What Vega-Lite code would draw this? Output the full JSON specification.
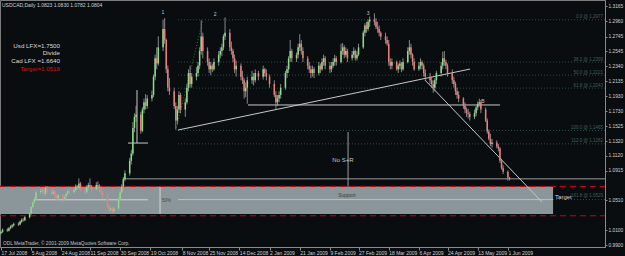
{
"$schema": "https://vega.github.io/schema/vega-lite/v6.json",
"width": 605, "height": 247,
"autosize": {"type": "none"},
"padding": {"left": 0, "top": 0, "right": 20, "bottom": 9},
"background": "#0a0d10",
"config": {
 "view": {"stroke": "#7c7c7c", "strokeWidth": 1},
 "font": "Liberation Sans",
 "axis": {"grid": false, "domainColor": "#8a8a8a", "tickColor": "#8a8a8a", "labelColor": "#d0d0d0", "labelFont": "Liberation Sans"}
},
"datasets": {
 "candles": [
{"d":"2008-07-17","o":1.0060,"h":1.0095,"l":1.0045,"c":1.0080},
{"d":"2008-07-18","o":1.0080,"h":1.0125,"l":1.0065,"c":1.0110},
{"d":"2008-07-21","o":1.0110,"h":1.0130,"l":1.0080,"c":1.0095},
{"d":"2008-07-22","o":1.0095,"h":1.0145,"l":1.0085,"c":1.0130},
{"d":"2008-07-23","o":1.0130,"h":1.0170,"l":1.0115,"c":1.0150},
{"d":"2008-07-24","o":1.0150,"h":1.0185,"l":1.0130,"c":1.0170},
{"d":"2008-07-25","o":1.0170,"h":1.0205,"l":1.0150,"c":1.0190},
{"d":"2008-07-28","o":1.0190,"h":1.0210,"l":1.0160,"c":1.0180},
{"d":"2008-07-29","o":1.0180,"h":1.0235,"l":1.0170,"c":1.0220},
{"d":"2008-07-30","o":1.0220,"h":1.0265,"l":1.0200,"c":1.0245},
{"d":"2008-07-31","o":1.0245,"h":1.0270,"l":1.0220,"c":1.0240},
{"d":"2008-08-01","o":1.0240,"h":1.0295,"l":1.0225,"c":1.0280},
{"d":"2008-08-04","o":1.0280,"h":1.0350,"l":1.0265,"c":1.0330},
{"d":"2008-08-05","o":1.0330,"h":1.0440,"l":1.0315,"c":1.0420},
{"d":"2008-08-06","o":1.0420,"h":1.0500,"l":1.0400,"c":1.0480},
{"d":"2008-08-07","o":1.0480,"h":1.0560,"l":1.0460,"c":1.0530},
{"d":"2008-08-08","o":1.0530,"h":1.0650,"l":1.0510,"c":1.0620},
{"d":"2008-08-11","o":1.0620,"h":1.0680,"l":1.0590,"c":1.0640},
{"d":"2008-08-12","o":1.0640,"h":1.0690,"l":1.0600,"c":1.0650},
{"d":"2008-08-13","o":1.0650,"h":1.0670,"l":1.0570,"c":1.0600},
{"d":"2008-08-14","o":1.0600,"h":1.0700,"l":1.0580,"c":1.0680},
{"d":"2008-08-15","o":1.0680,"h":1.0705,"l":1.0610,"c":1.0640},
{"d":"2008-08-18","o":1.0640,"h":1.0665,"l":1.0580,"c":1.0600},
{"d":"2008-08-19","o":1.0600,"h":1.0660,"l":1.0585,"c":1.0630},
{"d":"2008-08-20","o":1.0630,"h":1.0645,"l":1.0540,"c":1.0560},
{"d":"2008-08-21","o":1.0560,"h":1.0590,"l":1.0510,"c":1.0540},
{"d":"2008-08-22","o":1.0540,"h":1.0600,"l":1.0520,"c":1.0580},
{"d":"2008-08-25","o":1.0580,"h":1.0600,"l":1.0480,"c":1.0530},
{"d":"2008-08-26","o":1.0530,"h":1.0580,"l":1.0500,"c":1.0560},
{"d":"2008-08-27","o":1.0560,"h":1.0620,"l":1.0530,"c":1.0600},
{"d":"2008-08-28","o":1.0600,"h":1.0660,"l":1.0580,"c":1.0640},
{"d":"2008-08-29","o":1.0640,"h":1.0670,"l":1.0600,"c":1.0620},
{"d":"2008-09-01","o":1.0620,"h":1.0680,"l":1.0600,"c":1.0650},
{"d":"2008-09-02","o":1.0650,"h":1.0730,"l":1.0630,"c":1.0700},
{"d":"2008-09-03","o":1.0700,"h":1.0720,"l":1.0650,"c":1.0680},
{"d":"2008-09-04","o":1.0680,"h":1.0810,"l":1.0660,"c":1.0740},
{"d":"2008-09-05","o":1.0740,"h":1.0760,"l":1.0640,"c":1.0660},
{"d":"2008-09-08","o":1.0660,"h":1.0690,"l":1.0590,"c":1.0620},
{"d":"2008-09-09","o":1.0620,"h":1.0720,"l":1.0600,"c":1.0690},
{"d":"2008-09-10","o":1.0690,"h":1.0750,"l":1.0660,"c":1.0720},
{"d":"2008-09-11","o":1.0720,"h":1.0810,"l":1.0680,"c":1.0700},
{"d":"2008-09-12","o":1.0700,"h":1.0720,"l":1.0630,"c":1.0660},
{"d":"2008-09-15","o":1.0660,"h":1.0760,"l":1.0640,"c":1.0720},
{"d":"2008-09-16","o":1.0720,"h":1.0770,"l":1.0670,"c":1.0700},
{"d":"2008-09-17","o":1.0700,"h":1.0730,"l":1.0620,"c":1.0650},
{"d":"2008-09-18","o":1.0650,"h":1.0700,"l":1.0580,"c":1.0620},
{"d":"2008-09-19","o":1.0620,"h":1.0640,"l":1.0530,"c":1.0580},
{"d":"2008-09-22","o":1.0580,"h":1.0600,"l":1.0400,"c":1.0420},
{"d":"2008-09-23","o":1.0420,"h":1.0450,"l":1.0350,"c":1.0380},
{"d":"2008-09-24","o":1.0380,"h":1.0430,"l":1.0350,"c":1.0400},
{"d":"2008-09-25","o":1.0400,"h":1.0420,"l":1.0330,"c":1.0360},
{"d":"2008-09-26","o":1.0360,"h":1.0430,"l":1.0340,"c":1.0400},
{"d":"2008-09-29","o":1.0400,"h":1.0560,"l":1.0380,"c":1.0520},
{"d":"2008-09-30","o":1.0520,"h":1.0660,"l":1.0500,"c":1.0620},
{"d":"2008-10-01","o":1.0620,"h":1.0730,"l":1.0600,"c":1.0700},
{"d":"2008-10-02","o":1.0700,"h":1.0830,"l":1.0680,"c":1.0800},
{"d":"2008-10-03","o":1.0800,"h":1.0920,"l":1.0770,"c":1.0880},
{"d":"2008-10-06","o":1.0880,"h":1.1090,"l":1.0850,"c":1.1050},
{"d":"2008-10-07","o":1.1050,"h":1.1200,"l":1.1000,"c":1.1150},
{"d":"2008-10-08","o":1.1150,"h":1.1580,"l":1.1120,"c":1.1500},
{"d":"2008-10-09","o":1.1500,"h":1.1700,"l":1.1440,"c":1.1650},
{"d":"2008-10-10","o":1.1650,"h":1.1800,"l":1.1580,"c":1.1680},
{"d":"2008-10-13","o":1.1680,"h":1.1720,"l":1.1420,"c":1.1460},
{"d":"2008-10-14","o":1.1460,"h":1.1780,"l":1.1440,"c":1.1750},
{"d":"2008-10-15","o":1.1750,"h":1.1900,"l":1.1700,"c":1.1850},
{"d":"2008-10-16","o":1.1850,"h":1.1960,"l":1.1750,"c":1.1800},
{"d":"2008-10-17","o":1.1800,"h":1.1950,"l":1.1760,"c":1.1900},
{"d":"2008-10-20","o":1.1900,"h":1.2010,"l":1.1860,"c":1.1950},
{"d":"2008-10-21","o":1.1950,"h":1.2230,"l":1.1920,"c":1.2200},
{"d":"2008-10-22","o":1.2200,"h":1.2500,"l":1.2150,"c":1.2450},
{"d":"2008-10-23","o":1.2450,"h":1.2600,"l":1.2300,"c":1.2380},
{"d":"2008-10-24","o":1.2380,"h":1.2750,"l":1.2350,"c":1.2600},
{"d":"2008-10-27","o":1.2600,"h":1.2980,"l":1.2550,"c":1.2850},
{"d":"2008-10-28","o":1.2850,"h":1.3000,"l":1.2650,"c":1.2700},
{"d":"2008-10-29","o":1.2700,"h":1.2720,"l":1.2250,"c":1.2300},
{"d":"2008-10-30","o":1.2300,"h":1.2350,"l":1.2000,"c":1.2050},
{"d":"2008-10-31","o":1.2050,"h":1.2180,"l":1.1950,"c":1.2000},
{"d":"2008-11-03","o":1.2000,"h":1.2050,"l":1.1760,"c":1.1800},
{"d":"2008-11-04","o":1.1800,"h":1.1850,"l":1.1480,"c":1.1600},
{"d":"2008-11-05","o":1.1600,"h":1.1800,"l":1.1550,"c":1.1750},
{"d":"2008-11-06","o":1.1750,"h":1.2000,"l":1.1700,"c":1.1950},
{"d":"2008-11-07","o":1.1950,"h":1.1980,"l":1.1700,"c":1.1750},
{"d":"2008-11-10","o":1.1750,"h":1.1900,"l":1.1650,"c":1.1850},
{"d":"2008-11-11","o":1.1850,"h":1.2100,"l":1.1820,"c":1.2050},
{"d":"2008-11-12","o":1.2050,"h":1.2300,"l":1.2000,"c":1.2250},
{"d":"2008-11-13","o":1.2250,"h":1.2350,"l":1.2050,"c":1.2100},
{"d":"2008-11-14","o":1.2100,"h":1.2250,"l":1.2050,"c":1.2200},
{"d":"2008-11-17","o":1.2200,"h":1.2330,"l":1.2150,"c":1.2250},
{"d":"2008-11-18","o":1.2250,"h":1.2400,"l":1.2200,"c":1.2350},
{"d":"2008-11-19","o":1.2350,"h":1.2600,"l":1.2300,"c":1.2550},
{"d":"2008-11-20","o":1.2550,"h":1.2970,"l":1.2500,"c":1.2750},
{"d":"2008-11-21","o":1.2750,"h":1.2800,"l":1.2450,"c":1.2550},
{"d":"2008-11-24","o":1.2550,"h":1.2600,"l":1.2350,"c":1.2400},
{"d":"2008-11-25","o":1.2400,"h":1.2450,"l":1.2250,"c":1.2300},
{"d":"2008-11-26","o":1.2300,"h":1.2400,"l":1.2220,"c":1.2350},
{"d":"2008-11-27","o":1.2350,"h":1.2380,"l":1.2260,"c":1.2300},
{"d":"2008-11-28","o":1.2300,"h":1.2450,"l":1.2280,"c":1.2400},
{"d":"2008-12-01","o":1.2400,"h":1.2550,"l":1.2350,"c":1.2500},
{"d":"2008-12-02","o":1.2500,"h":1.2600,"l":1.2450,"c":1.2550},
{"d":"2008-12-03","o":1.2550,"h":1.2650,"l":1.2480,"c":1.2600},
{"d":"2008-12-04","o":1.2600,"h":1.2780,"l":1.2560,"c":1.2750},
{"d":"2008-12-05","o":1.2750,"h":1.3010,"l":1.2700,"c":1.2800},
{"d":"2008-12-08","o":1.2800,"h":1.2850,"l":1.2550,"c":1.2600},
{"d":"2008-12-09","o":1.2600,"h":1.2680,"l":1.2500,"c":1.2550},
{"d":"2008-12-10","o":1.2550,"h":1.2580,"l":1.2400,"c":1.2450},
{"d":"2008-12-11","o":1.2450,"h":1.2500,"l":1.2250,"c":1.2300},
{"d":"2008-12-12","o":1.2300,"h":1.2420,"l":1.2200,"c":1.2350},
{"d":"2008-12-15","o":1.2350,"h":1.2380,"l":1.2150,"c":1.2200},
{"d":"2008-12-16","o":1.2200,"h":1.2280,"l":1.2100,"c":1.2150},
{"d":"2008-12-17","o":1.2150,"h":1.2180,"l":1.1900,"c":1.2000},
{"d":"2008-12-18","o":1.2000,"h":1.2120,"l":1.1920,"c":1.2050},
{"d":"2008-12-19","o":1.2050,"h":1.2200,"l":1.1830,"c":1.2150},
{"d":"2008-12-22","o":1.2150,"h":1.2280,"l":1.2100,"c":1.2200},
{"d":"2008-12-23","o":1.2200,"h":1.2250,"l":1.2080,"c":1.2150},
{"d":"2008-12-24","o":1.2150,"h":1.2300,"l":1.2120,"c":1.2250},
{"d":"2008-12-26","o":1.2250,"h":1.2280,"l":1.2150,"c":1.2200},
{"d":"2008-12-29","o":1.2200,"h":1.2350,"l":1.2160,"c":1.2300},
{"d":"2008-12-30","o":1.2300,"h":1.2320,"l":1.2200,"c":1.2250},
{"d":"2008-12-31","o":1.2250,"h":1.2300,"l":1.2150,"c":1.2200},
{"d":"2009-01-02","o":1.2200,"h":1.2230,"l":1.2050,"c":1.2100},
{"d":"2009-01-05","o":1.2100,"h":1.2150,"l":1.1920,"c":1.1950},
{"d":"2009-01-06","o":1.1950,"h":1.2000,"l":1.1760,"c":1.1850},
{"d":"2009-01-07","o":1.1850,"h":1.1950,"l":1.1800,"c":1.1900},
{"d":"2009-01-08","o":1.1900,"h":1.2000,"l":1.1850,"c":1.1950},
{"d":"2009-01-09","o":1.1950,"h":1.2100,"l":1.1900,"c":1.2050},
{"d":"2009-01-12","o":1.2050,"h":1.2280,"l":1.2020,"c":1.2250},
{"d":"2009-01-13","o":1.2250,"h":1.2350,"l":1.2180,"c":1.2300},
{"d":"2009-01-14","o":1.2300,"h":1.2480,"l":1.2250,"c":1.2450},
{"d":"2009-01-15","o":1.2450,"h":1.2700,"l":1.2400,"c":1.2550},
{"d":"2009-01-16","o":1.2550,"h":1.2580,"l":1.2400,"c":1.2450},
{"d":"2009-01-19","o":1.2450,"h":1.2530,"l":1.2400,"c":1.2500},
{"d":"2009-01-20","o":1.2500,"h":1.2650,"l":1.2450,"c":1.2600},
{"d":"2009-01-21","o":1.2600,"h":1.2780,"l":1.2550,"c":1.2650},
{"d":"2009-01-22","o":1.2650,"h":1.2700,"l":1.2500,"c":1.2550},
{"d":"2009-01-23","o":1.2550,"h":1.2600,"l":1.2400,"c":1.2450},
{"d":"2009-01-26","o":1.2450,"h":1.2480,"l":1.2300,"c":1.2350},
{"d":"2009-01-27","o":1.2350,"h":1.2400,"l":1.2250,"c":1.2300},
{"d":"2009-01-28","o":1.2300,"h":1.2350,"l":1.2180,"c":1.2250},
{"d":"2009-01-29","o":1.2250,"h":1.2350,"l":1.2200,"c":1.2300},
{"d":"2009-01-30","o":1.2300,"h":1.2330,"l":1.2180,"c":1.2250},
{"d":"2009-02-02","o":1.2250,"h":1.2400,"l":1.2220,"c":1.2350},
{"d":"2009-02-03","o":1.2350,"h":1.2380,"l":1.2250,"c":1.2300},
{"d":"2009-02-04","o":1.2300,"h":1.2450,"l":1.2280,"c":1.2400},
{"d":"2009-02-05","o":1.2400,"h":1.2500,"l":1.2350,"c":1.2450},
{"d":"2009-02-06","o":1.2450,"h":1.2480,"l":1.2300,"c":1.2350},
{"d":"2009-02-09","o":1.2350,"h":1.2400,"l":1.2250,"c":1.2300},
{"d":"2009-02-10","o":1.2300,"h":1.2400,"l":1.2260,"c":1.2350},
{"d":"2009-02-11","o":1.2350,"h":1.2450,"l":1.2320,"c":1.2400},
{"d":"2009-02-12","o":1.2400,"h":1.2500,"l":1.2350,"c":1.2450},
{"d":"2009-02-13","o":1.2450,"h":1.2480,"l":1.2350,"c":1.2400},
{"d":"2009-02-16","o":1.2400,"h":1.2650,"l":1.2380,"c":1.2550},
{"d":"2009-02-17","o":1.2550,"h":1.2660,"l":1.2500,"c":1.2600},
{"d":"2009-02-18","o":1.2600,"h":1.2630,"l":1.2450,"c":1.2500},
{"d":"2009-02-19","o":1.2500,"h":1.2600,"l":1.2470,"c":1.2550},
{"d":"2009-02-20","o":1.2550,"h":1.2580,"l":1.2400,"c":1.2450},
{"d":"2009-02-23","o":1.2450,"h":1.2550,"l":1.2420,"c":1.2500},
{"d":"2009-02-24","o":1.2500,"h":1.2600,"l":1.2460,"c":1.2550},
{"d":"2009-02-25","o":1.2550,"h":1.2570,"l":1.2420,"c":1.2450},
{"d":"2009-02-26","o":1.2450,"h":1.2550,"l":1.2420,"c":1.2500},
{"d":"2009-02-27","o":1.2500,"h":1.2650,"l":1.2480,"c":1.2600},
{"d":"2009-03-02","o":1.2600,"h":1.2830,"l":1.2580,"c":1.2800},
{"d":"2009-03-03","o":1.2800,"h":1.2930,"l":1.2750,"c":1.2900},
{"d":"2009-03-04","o":1.2900,"h":1.2950,"l":1.2800,"c":1.2850},
{"d":"2009-03-05","o":1.2850,"h":1.2980,"l":1.2820,"c":1.2950},
{"d":"2009-03-06","o":1.2950,"h":1.3020,"l":1.2880,"c":1.2980},
{"d":"2009-03-09","o":1.2980,"h":1.3065,"l":1.2900,"c":1.2950},
{"d":"2009-03-10","o":1.2950,"h":1.3000,"l":1.2850,"c":1.2880},
{"d":"2009-03-11","o":1.2880,"h":1.2950,"l":1.2800,"c":1.2850},
{"d":"2009-03-12","o":1.2850,"h":1.2900,"l":1.2750,"c":1.2800},
{"d":"2009-03-13","o":1.2800,"h":1.2820,"l":1.2700,"c":1.2750},
{"d":"2009-03-16","o":1.2750,"h":1.2800,"l":1.2650,"c":1.2700},
{"d":"2009-03-17","o":1.2700,"h":1.2750,"l":1.2620,"c":1.2650},
{"d":"2009-03-18","o":1.2650,"h":1.2700,"l":1.2350,"c":1.2400},
{"d":"2009-03-19","o":1.2400,"h":1.2450,"l":1.2300,"c":1.2350},
{"d":"2009-03-20","o":1.2350,"h":1.2450,"l":1.2300,"c":1.2400},
{"d":"2009-03-23","o":1.2400,"h":1.2420,"l":1.2280,"c":1.2300},
{"d":"2009-03-24","o":1.2300,"h":1.2380,"l":1.2250,"c":1.2350},
{"d":"2009-03-25","o":1.2350,"h":1.2420,"l":1.2300,"c":1.2380},
{"d":"2009-03-26","o":1.2380,"h":1.2400,"l":1.2260,"c":1.2300},
{"d":"2009-03-27","o":1.2300,"h":1.2450,"l":1.2280,"c":1.2400},
{"d":"2009-03-30","o":1.2400,"h":1.2600,"l":1.2380,"c":1.2550},
{"d":"2009-03-31","o":1.2550,"h":1.2700,"l":1.2500,"c":1.2600},
{"d":"2009-04-01","o":1.2600,"h":1.2650,"l":1.2450,"c":1.2500},
{"d":"2009-04-02","o":1.2500,"h":1.2520,"l":1.2350,"c":1.2400},
{"d":"2009-04-03","o":1.2400,"h":1.2450,"l":1.2280,"c":1.2300},
{"d":"2009-04-06","o":1.2300,"h":1.2400,"l":1.2280,"c":1.2350},
{"d":"2009-04-07","o":1.2350,"h":1.2450,"l":1.2300,"c":1.2400},
{"d":"2009-04-08","o":1.2400,"h":1.2420,"l":1.2300,"c":1.2350},
{"d":"2009-04-09","o":1.2350,"h":1.2380,"l":1.2200,"c":1.2250},
{"d":"2009-04-10","o":1.2250,"h":1.2300,"l":1.2150,"c":1.2200},
{"d":"2009-04-13","o":1.2200,"h":1.2250,"l":1.2100,"c":1.2150},
{"d":"2009-04-14","o":1.2150,"h":1.2200,"l":1.2050,"c":1.2100},
{"d":"2009-04-15","o":1.2100,"h":1.2150,"l":1.1980,"c":1.2050},
{"d":"2009-04-16","o":1.2050,"h":1.2180,"l":1.2000,"c":1.2150},
{"d":"2009-04-17","o":1.2150,"h":1.2280,"l":1.2100,"c":1.2250},
{"d":"2009-04-20","o":1.2250,"h":1.2400,"l":1.2200,"c":1.2350},
{"d":"2009-04-21","o":1.2350,"h":1.2540,"l":1.2300,"c":1.2450},
{"d":"2009-04-22","o":1.2450,"h":1.2550,"l":1.2350,"c":1.2400},
{"d":"2009-04-23","o":1.2400,"h":1.2430,"l":1.2300,"c":1.2350},
{"d":"2009-04-24","o":1.2350,"h":1.2380,"l":1.2200,"c":1.2250},
{"d":"2009-04-27","o":1.2250,"h":1.2300,"l":1.2100,"c":1.2150},
{"d":"2009-04-28","o":1.2150,"h":1.2200,"l":1.2050,"c":1.2100},
{"d":"2009-04-29","o":1.2100,"h":1.2130,"l":1.1950,"c":1.2000},
{"d":"2009-04-30","o":1.2000,"h":1.2050,"l":1.1900,"c":1.1950},
{"d":"2009-05-01","o":1.1950,"h":1.2000,"l":1.1850,"c":1.1900},
{"d":"2009-05-04","o":1.1900,"h":1.1920,"l":1.1760,"c":1.1800},
{"d":"2009-05-05","o":1.1800,"h":1.1850,"l":1.1700,"c":1.1750},
{"d":"2009-05-06","o":1.1750,"h":1.1780,"l":1.1650,"c":1.1700},
{"d":"2009-05-07","o":1.1700,"h":1.1760,"l":1.1630,"c":1.1690},
{"d":"2009-05-08","o":1.1690,"h":1.1720,"l":1.1600,"c":1.1650},
{"d":"2009-05-11","o":1.1650,"h":1.1750,"l":1.1620,"c":1.1700},
{"d":"2009-05-12","o":1.1700,"h":1.1800,"l":1.1660,"c":1.1780},
{"d":"2009-05-13","o":1.1780,"h":1.1860,"l":1.1740,"c":1.1830},
{"d":"2009-05-14","o":1.1830,"h":1.1900,"l":1.1790,"c":1.1850},
{"d":"2009-05-15","o":1.1850,"h":1.1880,"l":1.1700,"c":1.1750},
{"d":"2009-05-18","o":1.1750,"h":1.1780,"l":1.1580,"c":1.1600},
{"d":"2009-05-19","o":1.1600,"h":1.1630,"l":1.1420,"c":1.1450},
{"d":"2009-05-20","o":1.1450,"h":1.1480,"l":1.1330,"c":1.1350},
{"d":"2009-05-21","o":1.1350,"h":1.1420,"l":1.1250,"c":1.1280},
{"d":"2009-05-22","o":1.1280,"h":1.1350,"l":1.1230,"c":1.1300},
{"d":"2009-05-25","o":1.1300,"h":1.1330,"l":1.1220,"c":1.1250},
{"d":"2009-05-26","o":1.1250,"h":1.1280,"l":1.1180,"c":1.1220},
{"d":"2009-05-27","o":1.1220,"h":1.1240,"l":1.1020,"c":1.1050},
{"d":"2009-05-28","o":1.1050,"h":1.1080,"l":1.0930,"c":1.0950},
{"d":"2009-05-29","o":1.0950,"h":1.0990,"l":1.0870,"c":1.0900},
{"d":"2009-06-01","o":1.0900,"h":1.0920,"l":1.0780,"c":1.0823},
{"d":"2009-06-02","o":1.0823,"h":1.0830,"l":1.0782,"c":1.0804}
 ],
 "segs": [
{"g":"box","d":"2008-07-16T09:06:00Z","d2":"2009-06-29T10:00:00Z","p":1.0700,"p2":1.0325},
{"g":"red","d":"2008-07-16T09:06:00Z","d2":"2009-08-01T02:30:00Z","p":1.0700,"p2":1.0700},
{"g":"red","d":"2008-07-16T09:06:00Z","d2":"2009-08-01T02:30:00Z","p":1.0300,"p2":1.0300},
{"g":"fib","d":"2008-11-05T10:00:00Z","d2":"2009-08-01T02:30:00Z","p":1.2977,"p2":1.2977},
{"g":"fib","d":"2008-11-05T10:00:00Z","d2":"2009-08-01T02:30:00Z","p":1.2399,"p2":1.2399},
{"g":"fib","d":"2008-11-05T10:00:00Z","d2":"2009-08-01T02:30:00Z","p":1.2221,"p2":1.2221},
{"g":"fib","d":"2008-11-05T10:00:00Z","d2":"2009-08-01T02:30:00Z","p":1.2043,"p2":1.2043},
{"g":"fib","d":"2008-11-05T10:00:00Z","d2":"2009-08-01T02:30:00Z","p":1.1465,"p2":1.1465},
{"g":"fib","d":"2008-11-05T10:00:00Z","d2":"2009-08-01T02:30:00Z","p":1.1282,"p2":1.1282},
{"g":"fib","d":"2009-06-29T10:00:00Z","d2":"2009-08-01T02:30:00Z","p":1.0522,"p2":1.0522},
{"g":"fibdiag","d":"2008-11-04T02:00:00Z","d2":"2008-11-21T02:00:00Z","p":1.1465,"p2":1.2977},
{"g":"line","d":"2008-11-05T10:00:00Z","d2":"2009-05-08T05:00:00Z","p":1.1471,"p2":1.2304},
{"g":"line","d":"2008-12-19T10:00:00Z","d2":"2009-05-27T00:00:00Z","p":1.1813,"p2":1.1813},
{"g":"line","d":"2009-04-09T19:00:00Z","d2":"2009-06-22T12:00:00Z","p":1.2154,"p2":1.0487},
{"g":"line","d":"2008-10-10T14:00:00Z","d2":"2008-10-10T14:00:00Z","p":1.2017,"p2":1.1293},
{"g":"line","d":"2008-10-04T22:00:00Z","d2":"2008-10-17T12:00:00Z","p":1.1293,"p2":1.1293},
{"g":"gray","d":"2009-02-20T10:00:00Z","d2":"2009-02-20T10:00:00Z","p":1.1444,"p2":1.0706},
{"g":"gray","d":"2008-10-01T19:00:00Z","d2":"2009-08-01T02:30:00Z","p":1.0804,"p2":1.0804},
{"g":"light","d":"2008-08-07T10:00:00Z","d2":"2008-10-17T12:00:00Z","p":1.0518,"p2":1.0518},
{"g":"light","d":"2008-10-25T02:00:00Z","d2":"2008-10-25T02:00:00Z","p":1.0692,"p2":1.0325},
{"g":"blue","d":"2008-11-05T10:00:00Z","d2":"2009-06-29T10:00:00Z","p":1.0520,"p2":1.0520}
 ],
 "texts": [
{"g":"head","d":"2008-07-17T15:00:00Z","p":1.3179,"t":"USDCAD,Daily  1.0823 1.0830 1.0782 1.0804"},
{"g":"info","d":"2008-08-23T03:00:00Z","p":1.2619,"t":"Usd LFX=1.7500"},
{"g":"info","d":"2008-08-23T03:00:00Z","p":1.2523,"t":"Divide"},
{"g":"info","d":"2008-08-23T03:00:00Z","p":1.2414,"t":"Cad LFX =1.6640"},
{"g":"infored","d":"2008-08-23T03:00:00Z","p":1.2304,"t":"Target=1.0516"},
{"g":"copy","d":"2008-07-18T06:00:00Z","p":0.9914,"t":"ODL MetaTrader, © 2001-2009 MetaQuotes Software Corp."},
{"g":"num","d":"2008-10-26T23:00:00Z","p":1.3083,"t":"1"},
{"g":"num","d":"2008-11-28T17:00:00Z","p":1.3056,"t":"2"},
{"g":"num","d":"2009-03-05T00:00:00Z","p":1.3069,"t":"3"},
{"g":"num","d":"2009-05-16T07:00:00Z","p":1.1867,"t":"B"},
{"g":"nosr","d":"2009-02-17T05:00:00Z","p":1.1061,"t":"No S+R"},
{"g":"support","d":"2009-02-19T17:00:00Z","p":1.0583,"t":"Support"},
{"g":"target","d":"2009-06-29T10:00:00Z","p":1.0556,"t":"Target"},
{"g":"pct","d":"2008-10-26T07:00:00Z","p":1.0501,"t":"50%"},
{"g":"fib","d":"2009-07-30T22:00:00Z","p":1.2977,"t":"0.0 @ 1.2977"},
{"g":"fib","d":"2009-07-30T22:00:00Z","p":1.2399,"t":"38.2 @ 1.2399"},
{"g":"fib","d":"2009-07-30T22:00:00Z","p":1.2221,"t":"50.0 @ 1.2221"},
{"g":"fib","d":"2009-07-30T22:00:00Z","p":1.2043,"t":"61.8 @ 1.2043"},
{"g":"fib","d":"2009-07-30T22:00:00Z","p":1.1465,"t":"100.0 @ 1.1465"},
{"g":"fib","d":"2009-07-30T22:00:00Z","p":1.1282,"t":"112.0 @ 1.1282"},
{"g":"fib","d":"2009-07-30T22:00:00Z","p":1.0529,"t":"161.8 @ 1.0529"}
 ],
 "tags": [
{"g":"w","p":1.0804,"t":"1.0804"},
{"g":"r","p":1.0700,"t":"1.0700"},
{"g":"r","p":1.0300,"t":"1.0300"}
 ]
},
"encoding": {
 "x": {"field": "d", "type": "temporal", "title": null,
  "scale": {"type": "utc", "domain": [{"year":2008,"month":7,"date":16,"hours":9,"minutes":6,"utc":true},{"year":2009,"month":8,"date":1,"hours":2,"minutes":30,"utc":true}]},
  "axis": {"values": [
   {"year":2008,"month":7,"date":17,"utc":true},{"year":2008,"month":8,"date":5,"utc":true},{"year":2008,"month":8,"date":24,"utc":true},
   {"year":2008,"month":9,"date":11,"utc":true},{"year":2008,"month":9,"date":30,"utc":true},{"year":2008,"month":10,"date":19,"utc":true},
   {"year":2008,"month":11,"date":8,"utc":true},{"year":2008,"month":11,"date":25,"utc":true},{"year":2008,"month":12,"date":14,"utc":true},
   {"year":2009,"month":1,"date":2,"utc":true},{"year":2009,"month":1,"date":21,"utc":true},{"year":2009,"month":2,"date":9,"utc":true},
   {"year":2009,"month":2,"date":27,"utc":true},{"year":2009,"month":3,"date":18,"utc":true},{"year":2009,"month":4,"date":6,"utc":true},
   {"year":2009,"month":4,"date":24,"utc":true},{"year":2009,"month":5,"date":13,"utc":true},{"year":2009,"month":6,"date":1,"utc":true}],
   "format": "%-d %b %Y", "labelAlign": "left", "labelBaseline": "top", "labelFontSize": 5, "labelPadding": 0, "tickSize": 3, "labelOverlap": false, "labelFlush": false}},
 "y": {"field": "p", "type": "quantitative", "title": null,
  "scale": {"domain": [0.9873, 1.3247], "nice": false, "zero": false},
  "axis": {"orient": "right", "values": [1.3165,1.296,1.2745,1.2545,1.234,1.2135,1.193,1.173,1.1525,1.132,1.112,1.0915,1.051,1.01,0.99],
   "format": ".4f", "labelFontSize": 4.8, "tickSize": 2, "labelPadding": 1, "labelBaseline": "middle", "labelOverlap": false, "labelFlush": false}}
},
"layer": [
 {"data": {"name": "segs"}, "transform": [{"filter": "datum.g == 'box'"}],
  "mark": {"type": "rect", "fill": "#8b969a"},
  "encoding": {"x2": {"field": "d2"}, "y2": {"field": "p2"}}},
 {"data": {"name": "segs"}, "transform": [{"filter": "datum.g == 'red'"}],
  "mark": {"type": "rule", "color": "#c80000", "strokeDash": [6, 4], "strokeWidth": 1.2},
  "encoding": {"x2": {"field": "d2"}, "y2": {"field": "p2"}}},
 {"data": {"name": "segs"}, "transform": [{"filter": "datum.g == 'fib'"}],
  "mark": {"type": "rule", "color": "#2e4c4a", "strokeDash": [1, 2], "strokeWidth": 1},
  "encoding": {"x2": {"field": "d2"}, "y2": {"field": "p2"}}},
 {"data": {"name": "segs"}, "transform": [{"filter": "datum.g == 'fibdiag'"}],
  "mark": {"type": "rule", "color": "#2e7a2e", "strokeDash": [1, 2], "strokeWidth": 1},
  "encoding": {"x2": {"field": "d2"}, "y2": {"field": "p2"}}},
 {"data": {"name": "segs"}, "transform": [{"filter": "datum.g == 'blue'"}],
  "mark": {"type": "rule", "color": "#a9c9de", "strokeWidth": 1},
  "encoding": {"x2": {"field": "d2"}, "y2": {"field": "p2"}}},
 {"data": {"name": "segs"}, "transform": [{"filter": "datum.g == 'light'"}],
  "mark": {"type": "rule", "color": "#d4d4d4", "strokeWidth": 1},
  "encoding": {"x2": {"field": "d2"}, "y2": {"field": "p2"}}},
 {"data": {"name": "segs"}, "transform": [{"filter": "datum.g == 'gray'"}],
  "mark": {"type": "rule", "color": "#9c9c9c", "strokeWidth": 1},
  "encoding": {"x2": {"field": "d2"}, "y2": {"field": "p2"}}},
 {"data": {"name": "segs"}, "transform": [{"filter": "datum.g == 'line'"}],
  "mark": {"type": "rule", "color": "#c8c8c8", "strokeWidth": 1},
  "encoding": {"x2": {"field": "d2"}, "y2": {"field": "p2"}}},
 {"data": {"name": "candles"},
  "mark": {"type": "rule", "color": "#a4a4a4", "strokeWidth": 0.8},
  "encoding": {"y": {"field": "l", "type": "quantitative", "title": null, "scale": {"domain": [0.9873, 1.3247], "nice": false, "zero": false}}, "y2": {"field": "h"}}},
 {"data": {"name": "candles"},
  "mark": {"type": "rule", "strokeWidth": 1.5},
  "encoding": {"y": {"field": "o", "type": "quantitative", "title": null, "scale": {"domain": [0.9873, 1.3247], "nice": false, "zero": false}}, "y2": {"field": "c"},
   "color": {"condition": {"test": "datum.c >= datum.o", "value": "#86e086"}, "value": "#f27c7c"}}},
 {"data": {"name": "texts"}, "transform": [{"filter": "datum.g == 'head'"}],
  "mark": {"type": "text", "align": "left", "baseline": "middle", "fontSize": 5, "color": "#d0d0d0"},
  "encoding": {"text": {"field": "t"}}},
 {"data": {"name": "texts"}, "transform": [{"filter": "datum.g == 'info'"}],
  "mark": {"type": "text", "align": "right", "baseline": "middle", "fontSize": 6.2, "color": "#dadada"},
  "encoding": {"text": {"field": "t"}}},
 {"data": {"name": "texts"}, "transform": [{"filter": "datum.g == 'infored'"}],
  "mark": {"type": "text", "align": "right", "baseline": "middle", "fontSize": 6.2, "color": "#d81010"},
  "encoding": {"text": {"field": "t"}}},
 {"data": {"name": "texts"}, "transform": [{"filter": "datum.g == 'copy'"}],
  "mark": {"type": "text", "align": "left", "baseline": "middle", "fontSize": 4.8, "color": "#c4c4c4"},
  "encoding": {"text": {"field": "t"}}},
 {"data": {"name": "texts"}, "transform": [{"filter": "datum.g == 'num'"}],
  "mark": {"type": "text", "align": "center", "baseline": "middle", "fontSize": 5, "color": "#c4c4c4"},
  "encoding": {"text": {"field": "t"}}},
 {"data": {"name": "texts"}, "transform": [{"filter": "datum.g == 'nosr'"}],
  "mark": {"type": "text", "align": "center", "baseline": "middle", "fontSize": 6, "color": "#c8c8c8"},
  "encoding": {"text": {"field": "t"}}},
 {"data": {"name": "texts"}, "transform": [{"filter": "datum.g == 'support'"}],
  "mark": {"type": "text", "align": "center", "baseline": "middle", "fontSize": 5, "color": "#3c3c3c"},
  "encoding": {"text": {"field": "t"}}},
 {"data": {"name": "texts"}, "transform": [{"filter": "datum.g == 'target'"}],
  "mark": {"type": "text", "align": "left", "baseline": "middle", "fontSize": 6, "color": "#d4d4d4", "dx": 2},
  "encoding": {"text": {"field": "t"}}},
 {"data": {"name": "texts"}, "transform": [{"filter": "datum.g == 'pct'"}],
  "mark": {"type": "text", "align": "left", "baseline": "middle", "fontSize": 4.5, "color": "#4a4a4a"},
  "encoding": {"text": {"field": "t"}}},
 {"data": {"name": "texts"}, "transform": [{"filter": "datum.g == 'fib'"}],
  "mark": {"type": "text", "align": "right", "baseline": "bottom", "fontSize": 4.5, "color": "#3f5e5c", "dy": -0.5},
  "encoding": {"text": {"field": "t"}}},
 {"data": {"name": "tags"}, "transform": [{"filter": "datum.g == 'w'"}],
  "mark": {"type": "point", "shape": "M-1,-0.4H1V0.4H-1Z", "filled": true, "size": 300, "color": "#ffffff", "opacity": 1},
  "encoding": {"x": {"datum": {"year":2009,"month":8,"date":7,"hours":17,"utc":true}, "type": "temporal"}}},
 {"data": {"name": "tags"}, "transform": [{"filter": "datum.g == 'r'"}],
  "mark": {"type": "point", "shape": "M-1,-0.4H1V0.4H-1Z", "filled": true, "size": 300, "color": "#e00000", "opacity": 1},
  "encoding": {"x": {"datum": {"year":2009,"month":8,"date":7,"hours":17,"utc":true}, "type": "temporal"}}},
 {"data": {"name": "tags"}, "transform": [{"filter": "datum.g == 'w'"}],
  "mark": {"type": "text", "align": "center", "baseline": "middle", "fontSize": 4.8, "color": "#000000"},
  "encoding": {"x": {"datum": {"year":2009,"month":8,"date":7,"hours":17,"utc":true}, "type": "temporal"}, "text": {"field": "t"}}},
 {"data": {"name": "tags"}, "transform": [{"filter": "datum.g == 'r'"}],
  "mark": {"type": "text", "align": "center", "baseline": "middle", "fontSize": 4.8, "color": "#ffffff"},
  "encoding": {"x": {"datum": {"year":2009,"month":8,"date":7,"hours":17,"utc":true}, "type": "temporal"}, "text": {"field": "t"}}}
]
}
